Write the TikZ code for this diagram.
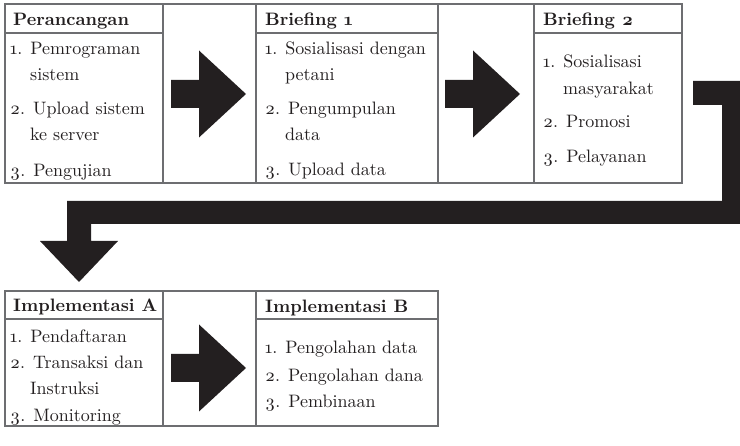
\documentclass[tikz,border=0pt]{standalone}
\usepackage{fontspec}
\setmainfont{lmroman10-regular.otf}[BoldFont=lmroman10-bold.otf, Numbers=OldStyle]
\usetikzlibrary{calc}
\definecolor{rule}{HTML}{6D6E71}
\definecolor{ink}{HTML}{231F20}
\tikzset{
  cell/.style={draw=rule, line width=1.1pt, anchor=north west, inner sep=0pt, outer sep=0pt},
  headrule/.style={draw=rule, line width=1.1pt},
  headtext/.style={font=\fontsize{18}{26}\selectfont\bfseries, anchor=base west, inner sep=0pt, text=ink},
  itemtext/.style={font=\fontsize{18}{26}\selectfont, anchor=base west, inner sep=0pt, text=ink},
  moretext/.style={itemtext, xshift=20pt},
  pics/rarrow/.style={code={
    \fill[ink] (-38,-14) -- (-10,-14) -- (-10,-43.5) -- (37,0) -- (-10,43.5) -- (-10,14) -- (-38,14) -- cycle;}},
}
\begin{document}
\begin{tikzpicture}[x=1pt, y=-1pt]
\useasboundingbox (0,0) rectangle (740,446);

% ---- top row: columns ----
\node[cell, minimum width=158pt, minimum height=179pt] (per) at (5,4) {};
\node[cell, minimum width=93pt,  minimum height=179pt] (arr1) at (163,4) {};
\node[cell, minimum width=182pt, minimum height=179pt] (bri1) at (256,4) {};
\node[cell, minimum width=96pt,  minimum height=179pt] (arr2) at (438,4) {};
\node[cell, minimum width=148pt, minimum height=179pt] (bri2) at (534,4) {};

% ---- bottom row: columns ----
\node[cell, minimum width=158pt, minimum height=135pt] (impa) at (5,291) {};
\node[cell, minimum width=93pt,  minimum height=135pt] (arr3) at (163,291) {};
\node[cell, minimum width=182pt, minimum height=135pt] (impb) at (256,291) {};

% ---- header rules ----
\foreach \c in {per,bri1,bri2}
  \draw[headrule] ([yshift=-29pt]\c.north west) -- ([yshift=-29pt]\c.north east);
\foreach \c in {impa,impb}
  \draw[headrule] ([yshift=-28pt]\c.north west) -- ([yshift=-28pt]\c.north east);

% ---- Perancangan ----
\node[headtext] (perh) at (13,26) {Perancangan};
\node[itemtext] (per1) at (10,55)  {1. Pemrograman};
\node[moretext] (per1b) at (10,81) {sistem};
\node[itemtext] (per2) at (10,115) {2. Upload sistem};
\node[moretext] (per2b) at (10,141) {ke server};
\node[itemtext] (per3) at (10,177) {3. Pengujian};

% ---- Briefing 1 ----
\node[headtext] (bri1h) at (265,26) {Briefing 1};
\node[itemtext] (bri11) at (265,55)  {1. Sosialisasi dengan};
\node[moretext] (bri11b) at (265,81) {petani};
\node[itemtext] (bri12) at (265,115) {2. Pengumpulan};
\node[moretext] (bri12b) at (265,141) {data};
\node[itemtext] (bri13) at (265,176) {3. Upload data};

% ---- Briefing 2 ----
\node[headtext] (bri2h) at (543,26) {Briefing 2};
\node[itemtext] (bri21) at (543,68)  {1. Sosialisasi};
\node[moretext] (bri21b) at (543,95) {masyarakat};
\node[itemtext] (bri22) at (543,128) {2. Promosi};
\node[itemtext] (bri23) at (543,163) {3. Pelayanan};

% ---- Implementasi A ----
\node[headtext] (impah) at (13,312) {Implementasi A};
\node[itemtext] (impa1) at (10,343) {1. Pendaftaran};
\node[itemtext] (impa2) at (10,369) {2. Transaksi dan};
\node[moretext] (impa2b) at (10,395) {Instruksi};
\node[itemtext] (impa3) at (10,422) {3. Monitoring};

% ---- Implementasi B ----
\node[headtext] (impbh) at (265,313) {Implementasi B};
\node[itemtext] (impb1) at (265,354) {1. Pengolahan data};
\node[itemtext] (impb2) at (265,382) {2. Pengolahan dana};
\node[itemtext] (impb3) at (265,408) {3. Pembinaan};

% ---- block arrows between stages ----
\pic at ($(arr1.center)+(-0.5,0.5)$) {rarrow};
\pic at ($(arr2.center)+(-3,0.5)$) {rarrow};
\pic at ($(arr3.center)+(-0.5,9.5)$) {rarrow};

% ---- bent arrow from Briefing 2 down to Implementasi A ----
\coordinate (k0) at ($(bri2.north east)+(11,77)$);
\coordinate (k1) at ($(impa.north west)+(74,-9)$);
\fill[ink] (k0) -- (740,81) -- (740,224) -- (91,224) -- (91,241) -- (118,241)
  -- (k1) -- (40,241) -- (67,241) -- (67,201) -- (722,201) -- (722,105) -- (693,105) -- cycle;
\end{tikzpicture}
\end{document}
